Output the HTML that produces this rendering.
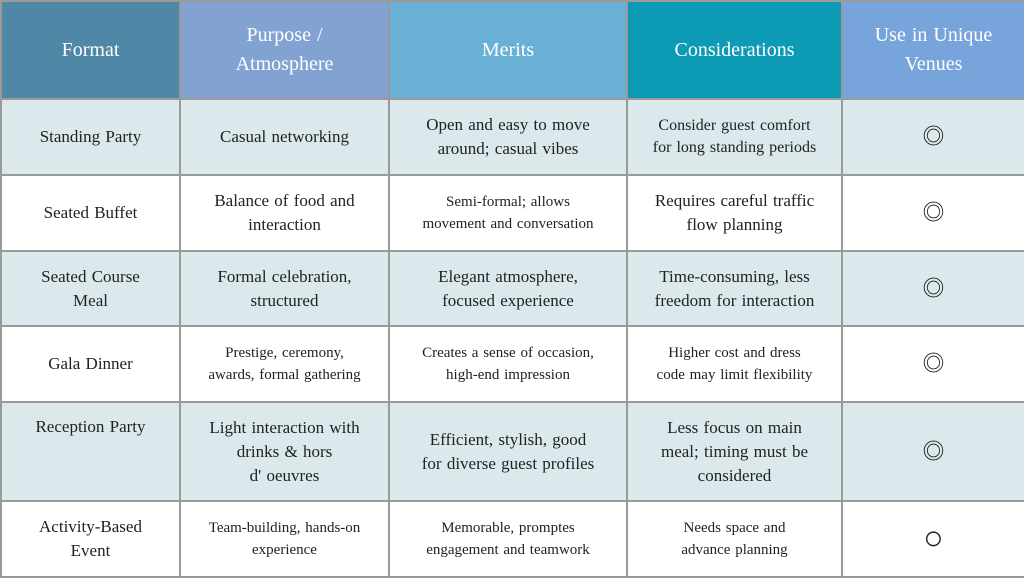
<!DOCTYPE html>
<html><head><meta charset="utf-8"><style>
body{margin:0;width:1024px;height:576px;overflow:hidden;background:#fff;font-family:"Liberation Serif","Noto Serif CJK SC",serif;}
table{position:absolute;left:0;top:0;width:1024px;height:577px;border-collapse:collapse;table-layout:fixed;}
td,th{border:2px solid #9a9a9a;text-align:center;vertical-align:middle;color:#222;font-size:17px;line-height:24px;padding:0 6px;font-weight:normal;word-spacing:1px}
th{color:#fff;font-size:20px;line-height:29px;height:96px}
tr.a td{background:#dbe9ec}
td.s{font-size:15px;line-height:22px}
td.m{font-size:22px}
</style></head><body>
<table>
<colgroup><col style="width:179px"><col style="width:209px"><col style="width:238px"><col style="width:215px"><col style="width:183px"></colgroup>
<tr><th style="background:#4f88a6">Format</th><th style="background:#82a3d2">Purpose /<br>Atmosphere</th><th style="background:#68b0d6">Merits</th><th style="background:#0d9ab4">Considerations</th><th style="background:#77a4da">Use in Unique<br>Venues</th></tr>
<tr class="a" style="height:76px"><td>Standing Party</td><td>Casual networking</td><td>Open and easy to move<br>around; casual vibes</td><td class="s" style="font-size:16px">Consider guest comfort<br>for long standing periods</td><td class="m">◎</td></tr>
<tr style="height:76px"><td>Seated Buffet</td><td>Balance of food and<br>interaction</td><td class="s">Semi-formal; allows<br>movement and conversation</td><td>Requires careful traffic<br>flow planning</td><td class="m">◎</td></tr>
<tr class="a" style="height:75px"><td>Seated Course<br>Meal</td><td>Formal celebration,<br>structured</td><td>Elegant atmosphere,<br>focused experience</td><td>Time-consuming, less<br>freedom for interaction</td><td class="m">◎</td></tr>
<tr style="height:76px"><td>Gala Dinner</td><td class="s">Prestige, ceremony,<br>awards, formal gathering</td><td class="s">Creates a sense of occasion,<br>high-end impression</td><td class="s">Higher cost and dress<br>code may limit flexibility</td><td class="m">◎</td></tr>
<tr class="a" style="height:99px"><td style="vertical-align:top;padding-top:12px">Reception Party</td><td>Light interaction with<br>drinks &amp; hors<br>d' oeuvres</td><td>Efficient, stylish, good<br>for diverse guest profiles</td><td>Less focus on main<br>meal; timing must be<br>considered</td><td class="m">◎</td></tr>
<tr style="height:76px"><td>Activity-Based<br>Event</td><td class="s">Team-building, hands-on<br>experience</td><td class="s">Memorable, promptes<br>engagement and teamwork</td><td class="s">Needs space and<br>advance planning</td><td class="m" style="font-size:34px">○</td></tr>
</table>
</body></html>
